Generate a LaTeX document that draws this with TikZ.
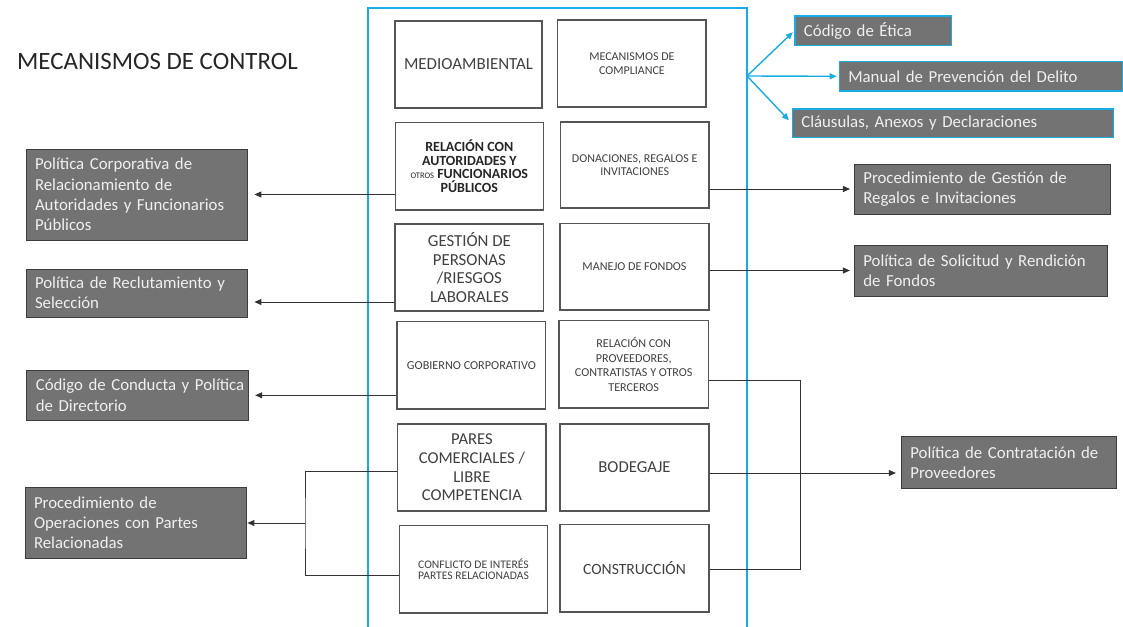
\documentclass[tikz,border=0pt]{standalone}
\usepackage{fontspec}
\setmainfont{Carlito}
\usetikzlibrary{arrows.meta}
\definecolor{cblue}{RGB}{22,172,228}
\definecolor{gfill}{RGB}{115,115,115}
\definecolor{gedge}{RGB}{60,60,60}
\definecolor{gtext}{RGB}{240,240,240}
\definecolor{itext}{RGB}{64,64,64}
\definecolor{iedge}{RGB}{85,85,85}
\newcommand{\fs}[2]{\fontsize{#1}{#2}\selectfont}
\begin{document}
\begin{tikzpicture}[x=1pt,y=-1pt,
 ibox/.style={draw=iedge, line width=1.2pt, fill=white, text=itext, align=center, inner sep=0pt},
 gbox/.style={draw=gedge, line width=0.8pt, fill=gfill, text=gtext, align=left, inner xsep=9pt, inner ysep=0pt, font=\fs{16.8}{20.4}},
 bbox/.style={gbox, draw=cblue, line width=1.3pt},
 conn/.style={draw=black!80, line width=0.9pt},
 arr/.style={conn, -{Triangle[length=7pt,width=6pt]}},
 barr/.style={draw=cblue, line width=1.4pt, -{Triangle[length=7pt,width=6pt]}}
]
\path[use as bounding box] (0,0) rectangle (1123,626);

% outer blue frame
\draw[cblue, line width=2pt] (368,628) -- (368,8) -- (747,8) -- (747,628);
\coordinate (bo) at (747,76);

% title
\node[anchor=base west, font=\fs{24.9}{28}, text=black!85, inner sep=0pt] (title) at (17,69) {MECANISMOS DE CONTROL};

% inner boxes
\node[ibox, minimum width=147pt, minimum height=87pt, font=\fs{16.9}{20}] (med) at (468.5,64.5) {MEDIOAMBIENTAL};
\node[ibox, minimum width=148.3pt, minimum height=87pt, font=\fs{12}{13.6}] (comp) at (631.9,63.5) {MECANISMOS DE\\COMPLIANCE};
\node[ibox, minimum width=148pt, minimum height=87.7pt, font=\fs{14}{13.5}\bfseries, text=black!85] (rel) at (469.3,166.2) {RELACIÓN CON\\AUTORIDADES Y\\{\mdseries\fs{8.5}{13.5}OTROS} FUNCIONARIOS\\PÚBLICOS};
\node[ibox, minimum width=148.7pt, minimum height=86pt, font=\fs{12}{12.7}] (don) at (634.7,165) {DONACIONES, REGALOS E\\INVITACIONES};
\node[ibox, minimum width=148.7pt, minimum height=87pt, font=\fs{16.8}{18.6}] (gest) at (469.4,267.5) {GESTIÓN DE\\PERSONAS\\/RIESGOS\\LABORALES};
\node[ibox, minimum width=149pt, minimum height=86.7pt, font=\fs{12.1}{14}] (man) at (634.5,266.7) {MANEJO DE FONDOS};
\node[ibox, minimum width=148.7pt, minimum height=87.3pt, font=\fs{12.2}{14}] (gob) at (471.4,365.4) {GOBIERNO CORPORATIVO};
\node[ibox, minimum width=149.3pt, minimum height=87.3pt, font=\fs{12.1}{14.7}] (relp) at (633.7,364.4) {RELACIÓN CON\\PROVEEDORES,\\CONTRATISTAS Y OTROS\\TERCEROS};
\node[ibox, minimum width=148.3pt, minimum height=87pt, font=\fs{16.6}{18.6}] (pares) at (471.9,467.5) {PARES\\COMERCIALES /\\LIBRE\\COMPETENCIA};
\node[ibox, minimum width=149pt, minimum height=87pt, font=\fs{16.7}{20}] (bod) at (634.5,467.5) {BODEGAJE};
\node[ibox, minimum width=147.6pt, minimum height=87.7pt, font=\fs{11.6}{11.5}] (confl) at (473.5,569.2) {CONFLICTO DE INTERÉS\\PARTES RELACIONADAS};
\node[ibox, minimum width=149pt, minimum height=87.3pt, font=\fs{15.6}{18}] (constr) at (634.5,568.4) {CONSTRUCCIÓN};

% left gray boxes
\node[gbox, text width=203pt, minimum height=91pt] (pcr) at (136.5,194.5) {Política Corporativa de\\Relacionamiento de\\Autoridades y Funcionarios\\Públicos};
\node[gbox, text width=203pt, minimum height=48pt] (prs) at (136.5,293) {Política de Reclutamiento y\\Selección};
\node[gbox, text width=204pt, minimum height=50.7pt] (ccp) at (137.8,395.3) {\mbox{Código de Conducta y Política}\\de Directorio};
\node[gbox, text width=203pt, minimum height=71pt] (pop) at (135.5,522.8) {Procedimiento de\\Operaciones con Partes\\Relacionadas};

% right boxes
\node[bbox, text width=138.7pt, minimum height=29.7pt] (etica) at (873.3,30.8) {Código de Ética};
\node[bbox, text width=265.4pt, minimum height=29.3pt] (manual) at (981,76.3) {Manual de Prevención del Delito};
\node[bbox, text width=303pt, minimum height=28.3pt] (claus) at (952.8,123.2) {Cláusulas, Anexos y Declaraciones};
\node[gbox, text width=237.7pt, minimum height=50pt] (pgr) at (982.2,189) {Procedimiento de Gestión de\\Regalos e Invitaciones};
\node[gbox, text width=235.4pt, minimum height=51pt] (psr) at (981,270.5) {Política de Solicitud y Rendición\\de Fondos};
\node[gbox, text width=197.4pt, minimum height=51.6pt] (pcp) at (1009,462.5) {Política de Contratación de\\Proveedores};

% left connectors
\draw[arr, shorten >=7pt] (rel.west |- pcr.east) -- (pcr.east);
\draw[arr, shorten >=7pt] (gest.west |- 0,302) -- (prs.east |- 0,302);
\draw[arr, shorten >=6pt] (gob.west |- ccp.east) -- (ccp.east);
\coordinate (jl) at (305,523);
\draw[conn] (pares.west |- 0,471.7) -| (jl) |- (confl.west |- 0,575);
\draw[arr, shorten >=1pt] (jl) -- (pop.east |- jl);

% right connectors
\draw[arr, shorten >=4pt] (don.east |- pgr.west) -- (pgr.west);
\draw[arr, shorten >=4pt] (man.east |- psr.west) -- (psr.west);
\coordinate (jr) at (800.7,473);
\draw[conn] (relp.east |- 0,380.7) -| (jr) |- (constr.east |- 0,569.3);
\draw[arr, shorten >=5pt] (bod.east |- jr) -- (pcp.west |- jr);

% blue arrows
\draw[barr, shorten >=2pt] (bo) -- (etica.west);
\draw[barr, shorten >=2pt] (bo) -- (manual.west);
\draw[barr, shorten >=4pt] (bo) -- (claus.west);
\end{tikzpicture}
\end{document}
